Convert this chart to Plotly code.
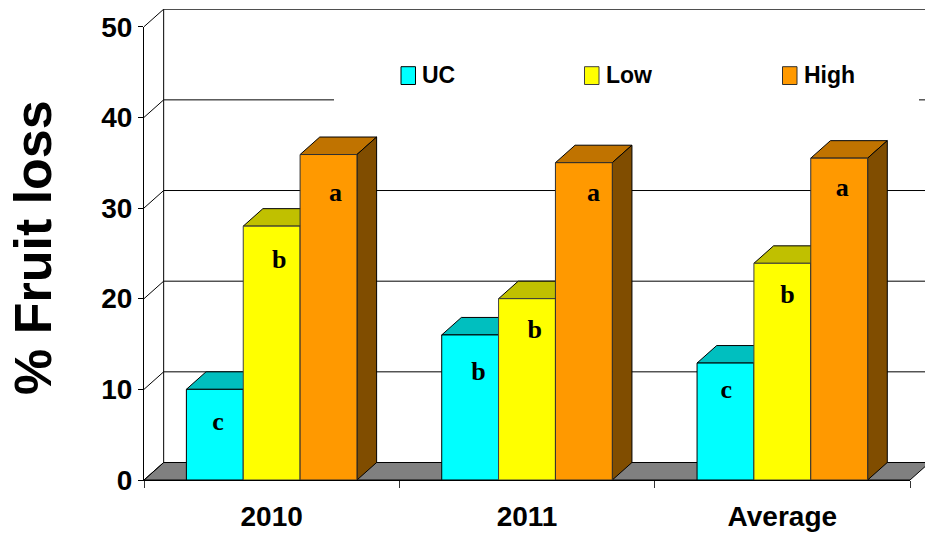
import plotly.graph_objects as go

categories = ["2010", "2011", "Average"]
series_names = ["UC", "Low", "High"]
uc_values = [10.0, 16.0, 12.9]
low_values = [28.0, 20.0, 23.9]
high_values = [35.9, 35.0, 35.5]
y_ticks = [0, 10, 20, 30, 40, 50]

letters = ["c", "b", "a", "b", "b", "a", "c", "b", "a"]
letter_x = [-0.21, 0.03, 0.25, 0.81, 1.03, 1.26, 1.78, 2.02, 2.235]
letter_y = [6.2, 24.1, 31.5, 11.8, 16.4, 31.5, 9.8, 20.2, 32.0]

front_colors = ["#00FFFF", "#FFFF00", "#FF9900"]
top_colors = ["#00BFBF", "#C0C000", "#C07300"]
side_colors = ["#008080", "#808000", "#804D00"]
edge_colors = ["#000000", "#404040", "#303030"]

# Page and box geometry, in pixels
WIDTH, HEIGHT = 925, 533
AXIS_LEFT, AXIS_RIGHT = 144, 910
AXIS_TOP, AXIS_BOTTOM = 26.7, 480
BACK_TOP = 9
PX_PER_CAT = (AXIS_RIGHT - AXIS_LEFT) / 3
PX_PER_UNIT = (AXIS_BOTTOM - AXIS_TOP) / 50

# Oblique projection of the box depth, in axis units
DEPTH_X = 0.077
DEPTH_Y = 1.93
BAR_WIDTH = 0.2227
X_MIN, X_MAX = -0.5, 2.5

fig = go.Figure()


def polygon(xs, ys, fill, line="#000000", width=1):
    fig.add_trace(go.Scatter(
        x=xs + xs[:1], y=ys + ys[:1], mode="lines", fill="toself",
        fillcolor=fill, line=dict(color=line, width=width),
        hoverinfo="skip", showlegend=False,
    ))


# Floor of the box
polygon([X_MIN, X_MIN + DEPTH_X, X_MAX + DEPTH_X, X_MAX],
        [0, DEPTH_Y, DEPTH_Y, 0], "#808080")

# Back wall gridlines and the connectors running to the value axis
for tick in y_ticks:
    fig.add_trace(go.Scatter(
        x=[X_MIN, X_MIN + DEPTH_X, X_MAX + DEPTH_X],
        y=[tick, tick + DEPTH_Y, tick + DEPTH_Y], mode="lines",
        line=dict(color="#000000", width=1), hoverinfo="skip", showlegend=False,
    ))
fig.add_trace(go.Scatter(
    x=[X_MIN + DEPTH_X, X_MIN + DEPTH_X], y=[DEPTH_Y, y_ticks[-1] + DEPTH_Y],
    mode="lines", line=dict(color="#000000", width=1), hoverinfo="skip", showlegend=False,
))

# Top and side faces of each column
all_values = [uc_values, low_values, high_values]
for s, values in enumerate(all_values):
    for c, value in enumerate(values):
        left = c + (s - 1.5) * BAR_WIDTH
        right = left + BAR_WIDTH
        polygon([left, left + DEPTH_X, right + DEPTH_X, right],
                [value, value + DEPTH_Y, value + DEPTH_Y, value], top_colors[s])
        polygon([right, right + DEPTH_X, right + DEPTH_X, right],
                [0, DEPTH_Y, value + DEPTH_Y, value], side_colors[s])

# Front faces sit on the later axes so they cover the depth faces
for s, values in enumerate(all_values):
    fig.add_trace(go.Bar(
        x=categories, y=values, name=series_names[s], xaxis="x2", yaxis="y2",
        marker=dict(color=front_colors[s], line=dict(color=edge_colors[s], width=1)),
        showlegend=False,
    ))

# Significance letters
fig.add_trace(go.Scatter(
    x=letter_x, y=letter_y, text=[f"<b>{t}</b>" for t in letters], mode="text",
    xaxis="x3", yaxis="y3", textposition="middle center",
    textfont=dict(family="Liberation Serif", size=26, color="#000000"),
    showlegend=False, hoverinfo="skip",
))


# Paper coordinates span the full face plot area
def px(x):
    return (x - AXIS_LEFT) / (WIDTH - AXIS_LEFT)


def py(y):
    return (AXIS_BOTTOM - y) / (AXIS_BOTTOM - BACK_TOP)


# Key: a white panel over the wall, then swatches and labels
shapes = [dict(type="rect", xref="paper", yref="paper", layer="above",
               x0=px(334), x1=px(919), y0=py(50), y1=py(102),
               fillcolor="#FFFFFF", line=dict(width=0))]
annotations = []
for name, color, edge, x_swatch in zip(series_names, front_colors, edge_colors, [401, 584.5, 782.5]):
    shapes.append(dict(type="rect", xref="paper", yref="paper", layer="above",
                       x0=px(x_swatch), x1=px(x_swatch + 14.5), y0=py(66.7), y1=py(84.5),
                       fillcolor=color, line=dict(color=edge, width=1)))
    annotations.append(dict(
        text=f"<b>{name}</b>", xref="paper", yref="paper", x=px(x_swatch + 19), y=py(75),
        xanchor="left", yanchor="middle", showarrow=False,
        font=dict(family="Liberation Sans", size=23, color="#000000"),
    ))

annotations.append(dict(
    text="<b>% Fruit loss</b>", xref="paper", yref="paper", x=px(33), y=py(248),
    xanchor="center", yanchor="middle", textangle=-90, showarrow=False,
    font=dict(family="Liberation Sans", size=52, color="#000000"),
))

front_domain_x = [0, (AXIS_RIGHT - AXIS_LEFT) / (WIDTH - AXIS_LEFT)]
front_domain_y = [0, (AXIS_BOTTOM - AXIS_TOP) / (AXIS_BOTTOM - BACK_TOP)]

fig.update_layout(
    template="none",
    width=WIDTH, height=HEIGHT, autosize=False,
    margin=dict(l=AXIS_LEFT, r=0, t=BACK_TOP, b=HEIGHT - AXIS_BOTTOM, pad=0),
    paper_bgcolor="#FFFFFF", plot_bgcolor="rgba(0,0,0,0)",
    barmode="group", bargap=0.332, bargroupgap=0,
    shapes=shapes, annotations=annotations,
    font=dict(family="Liberation Sans", color="#000000"),
    xaxis=dict(range=[X_MIN, X_MIN + (WIDTH - AXIS_LEFT) / PX_PER_CAT], domain=[0, 1],
               visible=False, fixedrange=True, automargin=False),
    yaxis=dict(range=[0, (AXIS_BOTTOM - BACK_TOP) / PX_PER_UNIT], domain=[0, 1],
               visible=False, fixedrange=True, automargin=False),
    xaxis2=dict(
        type="category", categoryorder="array", categoryarray=categories,
        range=[X_MIN, X_MAX], domain=front_domain_x, anchor="y2", side="bottom",
        tickson="boundaries", ticks="outside", ticklen=7, tickcolor="#333333", tickwidth=1,
        ticklabelstandoff=11, automargin=False,
        showline=True, linecolor="#000000", linewidth=1, showgrid=False,
        tickfont=dict(family="Liberation Sans", size=28, color="#000000", weight="bold"),
        fixedrange=True,
    ),
    yaxis2=dict(
        range=[0, 50], domain=front_domain_y, anchor="x2", tickvals=y_ticks,
        showgrid=False, zeroline=False, automargin=False,
        showline=True, linecolor="#000000", linewidth=1,
        ticks="outside", ticklen=5, tickcolor="#000000", tickwidth=1,
        tickfont=dict(family="Liberation Sans", size=28, color="#000000", weight="bold"),
        fixedrange=True,
    ),
    xaxis3=dict(range=[X_MIN, X_MAX], overlaying="x2", visible=False, fixedrange=True),
    yaxis3=dict(range=[0, 50], overlaying="y2", visible=False, fixedrange=True),
)

fig.write_html("out.html", config=dict(displayModeBar=False))
